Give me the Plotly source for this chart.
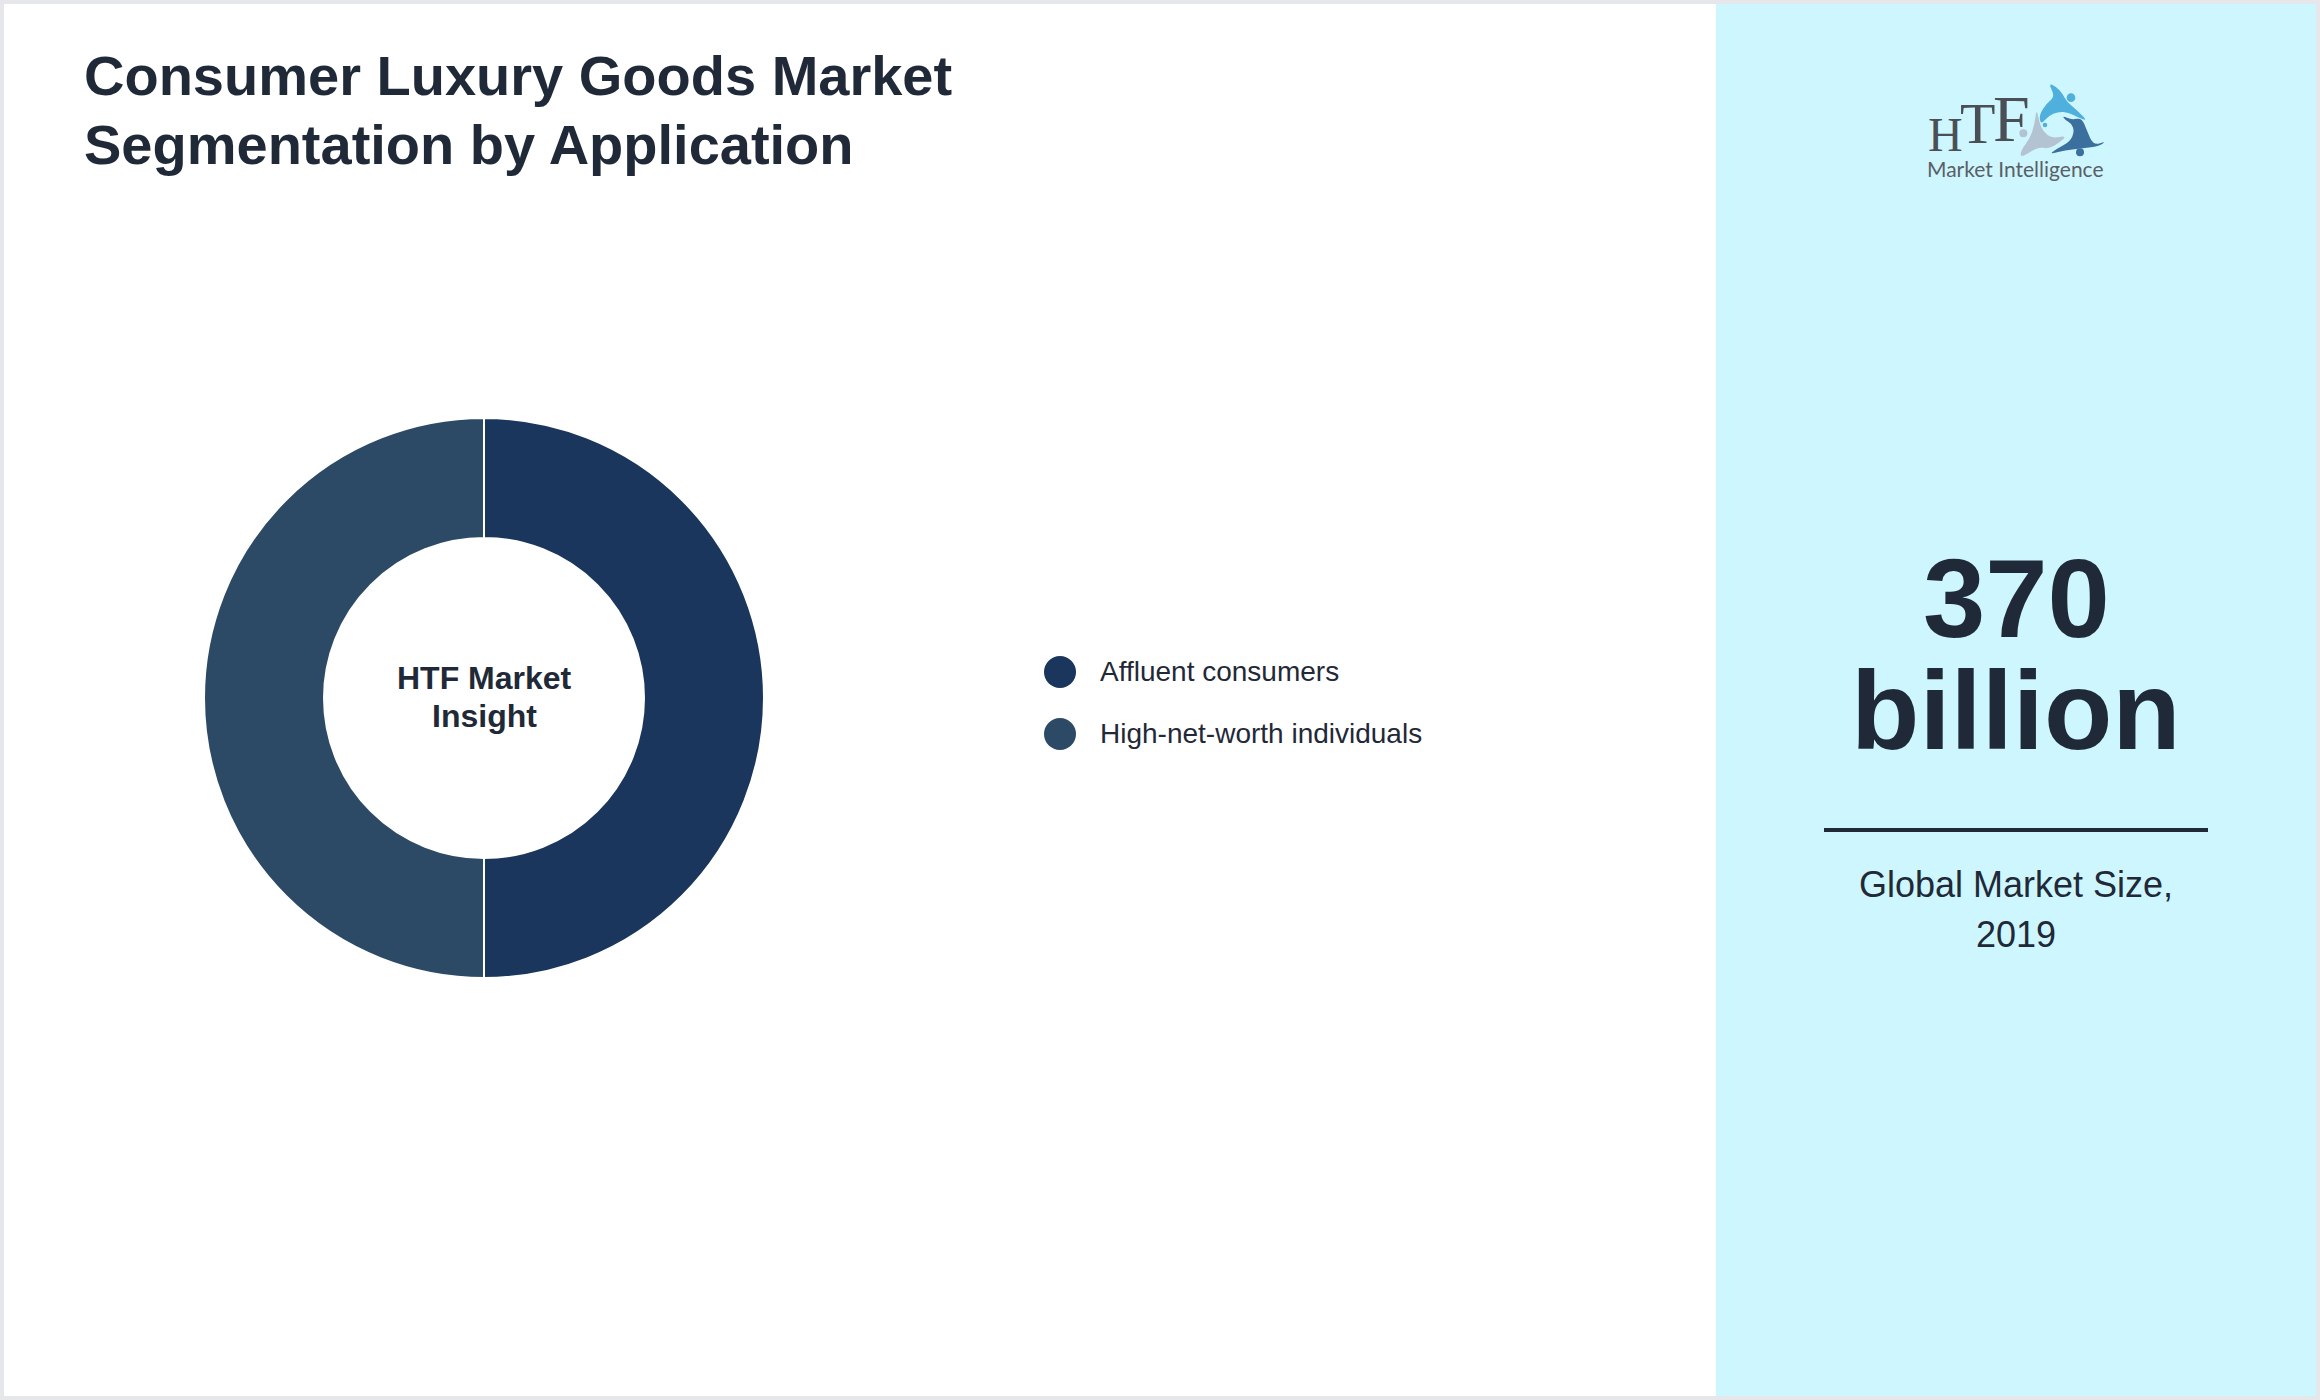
import plotly.graph_objects as go

# data
categories = ["Affluent consumers", "High-net-worth individuals"]
values = [50, 50]
colors = ["#1a365d", "#2c4a66"]

title_lines = ["Consumer Luxury Goods Market", "Segmentation by Application"]
center_lines = ["HTF Market", "Insight"]
big_lines = ["370", "billion"]
caption_lines = ["Global Market Size,", "2019"]

W = 2320
H = 1400
TEXT = "#1f2937"
FONT = "Liberation Sans"
SERIF = "Liberation Serif"


def px(x):
    return x / W


def py(y):
    return 1 - y / H


def label(x, y, text, size, anchor="center", bold=False, color=TEXT, family=FONT):
    if bold:
        text = f"<b>{text}</b>"
    fig.add_annotation(
        x=px(x), y=py(y), xref="paper", yref="paper", text=text, showarrow=False,
        xanchor=anchor, yanchor="middle", borderpad=0, borderwidth=0,
        font=dict(family=family, size=size, color=color),
    )


def rect(x0, y0, x1, y1, color):
    fig.add_shape(type="rect", xref="paper", yref="paper", x0=px(x0), y0=py(y0), x1=px(x1), y1=py(y1),
                  fillcolor=color, line_width=0, layer="below")


def circle(cx, cy, r, color):
    fig.add_shape(type="circle", xref="paper", yref="paper", x0=px(cx - r), y0=py(cy - r),
                  x1=px(cx + r), y1=py(cy + r), fillcolor=color, line_width=0)


# logo pieces are traced on a 3x crop whose corner is at 2015,75
def logo_xy(x, y):
    return f"{px(2015 + x / 3):.5f},{py(75 + y / 3):.5f}"


def logo_blob(points, color):
    n = len(points)
    mids = [((points[i][0] + points[(i + 1) % n][0]) / 2, (points[i][1] + points[(i + 1) % n][1]) / 2)
            for i in range(n)]
    path = "M" + logo_xy(*mids[-1])
    for i in range(n):
        path += " Q" + logo_xy(*points[i]) + " " + logo_xy(*mids[i])
    fig.add_shape(type="path", xref="paper", yref="paper", path=path + " Z",
                  fillcolor=color, line_width=0)


def logo_dot(x, y, r, color):
    circle(2015 + x / 3, 75 + y / 3, r / 3, color)


fig = go.Figure()

fig.add_trace(go.Pie(
    labels=categories,
    values=values,
    hole=160 / 280,
    sort=False,
    direction="clockwise",
    rotation=0,
    textinfo="none",
    marker=dict(colors=colors, line=dict(color="white", width=2)),
    domain=dict(x=[px(484 - 280), px(484 + 280)], y=[py(698 + 280), py(698 - 280)]),
    showlegend=False,
))

# page frame and side panel
rect(1716, 4, 2316, 1396, "#cef6fe")
rect(0, 0, W, 4, "#e5e7eb")
rect(0, 1396, W, H, "#e5e7eb")
rect(0, 0, 4, H, "#e5e7eb")
rect(2316, 0, W, H, "#e5e7eb")
rect(1824, 828, 2208, 832, TEXT)

label(84, 76, title_lines[0], 56, anchor="left", bold=True)
label(84, 145, title_lines[1], 56, anchor="left", bold=True)

label(484, 678, center_lines[0], 32, bold=True)
label(484, 716, center_lines[1], 32, bold=True)

# legend
legend_y = [672, 734]
for name, col, y in zip(categories, colors, legend_y):
    circle(1060, y, 16, col)
    label(1100, y - 1 if y == 672 else y, name, 28, anchor="left")

label(2016, 598, big_lines[0], 112, bold=True)
label(2016, 710, big_lines[1], 112, bold=True)
label(2016, 884, caption_lines[0], 36)
label(2016, 935, caption_lines[1], 36)

# logo
label(1945, 134, "H", 48, family=SERIF, color="#4a4f55")
label(1977, 123, "T", 58, family=SERIF, color="#4a4f55")
label(2011, 119, "F", 66, family=SERIF, color="#4a4f55")
label(2015, 168, "Market Intelligence", 21, family="Lato", color="#5a5f66")

logo_blob([(100, 24), (125, 36), (142, 55), (155, 80), (185, 105), (218, 138), (190, 128),
           (160, 112), (130, 110), (100, 122), (78, 150), (72, 120), (95, 85), (120, 65)], "#4fb0de")
logo_dot(168, 68, 13, "#4fb0de")
logo_dot(90, 150, 7, "#4fb0de")
logo_blob([(142, 122), (170, 135), (200, 128), (215, 165), (235, 212), (275, 198), (250, 214),
           (205, 220), (150, 226), (102, 238), (125, 222), (165, 200), (178, 170), (170, 145), (150, 135)], "#3a6f9e")
logo_dot(195, 232, 12, "#3a6f9e")
logo_blob([(65, 100), (72, 140), (85, 170), (110, 190), (155, 182), (135, 202), (100, 222),
           (70, 215), (16, 250), (18, 225), (45, 190), (58, 150)], "#b3c3d2")
logo_dot(25, 175, 12, "#b3c3d2")

fig.update_layout(
    width=W,
    height=H,
    margin=dict(l=0, r=0, t=0, b=0),
    paper_bgcolor="white",
    plot_bgcolor="white",
)

fig.write_html("out.html", config=dict(displayModeBar=False),
               post_script="document.body.style.margin='0';")
